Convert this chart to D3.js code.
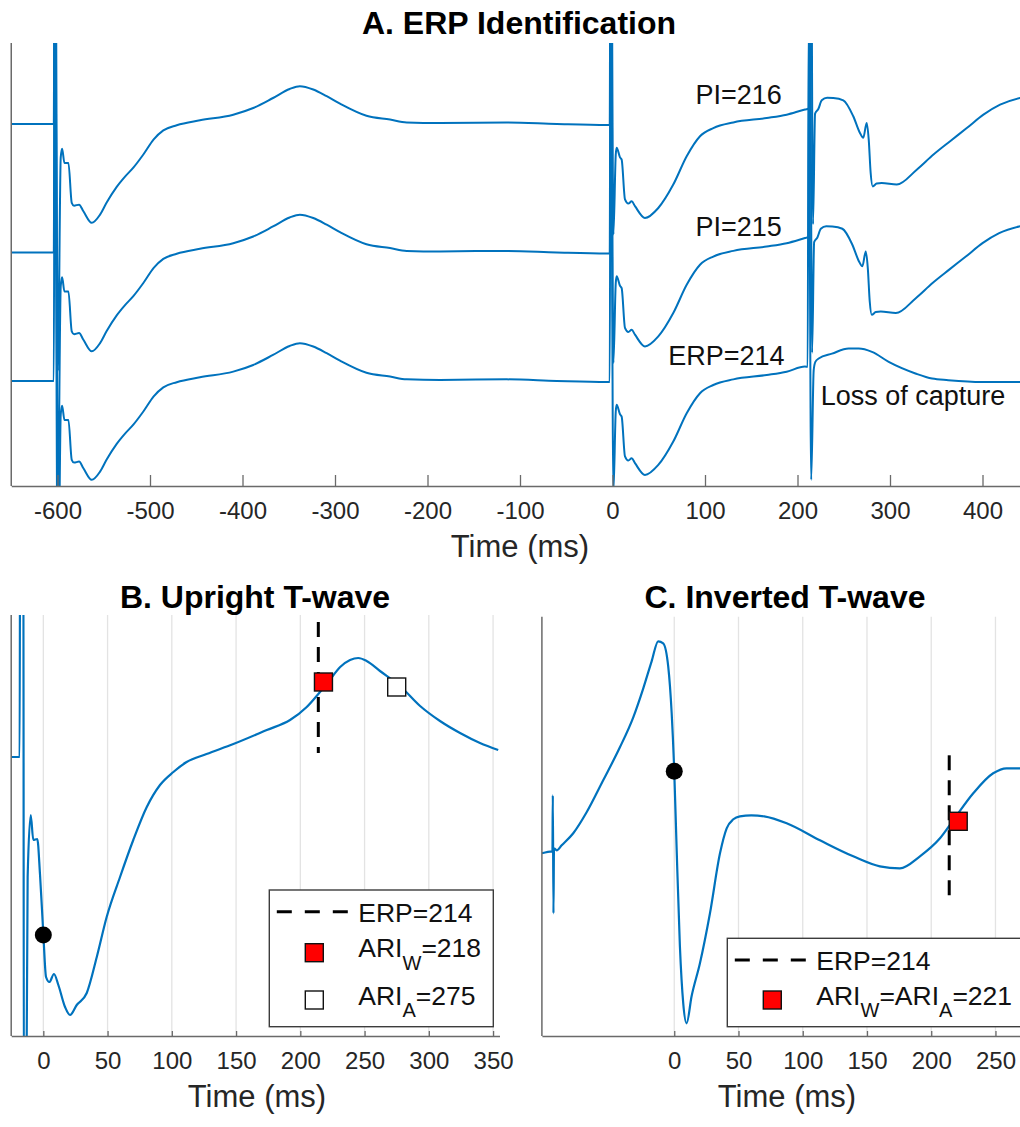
<!DOCTYPE html>
<html><head><meta charset="utf-8">
<script src="https://cdn.jsdelivr.net/npm/d3@7"></script>
<style>body{margin:0;background:#fff} svg{display:block}</style>
</head><body>
<svg id="chart" width="1020" height="1127"></svg>
<script>
// ===== Panel A data =====
const aTicks = [-600,-500,-400,-300,-200,-100,0,100,200,300,400];
const traceLabels = ["PI=216","PI=215","ERP=214"];
const traceOffsets = [0,-5,-10];
const s1Times = [-600,-600,-600];
const s2Times = [0,0,0];
const s3Times = [216,215,214];
const s3Captured = [true,true,false];
const labelTime = [183,183,186];
const labelValue = [0.78,0.62,0.62];
const lossLabel = "Loss of capture";
const lossLabelPos = [225,-0.95];

// S1 beat (time relative to S1 stimulus)
const s1Rel = [-4,-3,0.5,3.5,5,7.5,11.8,15.4,17.9,23.3,28,37,46,53,64,73,82,93,104,114.4,128.9,154,190,211.6,233,251,262,276.5,291,305.4,334,359.5,377.5,413.5,485.6,539.7,594];
const s1Val = [0,14,-9.6,-1.3,-0.97,-1.52,-1.52,-3.07,-3.18,-3.14,-3.4,-3.85,-3.53,-3.07,-2.45,-2.05,-1.7,-1.18,-0.6,-0.25,-0.05,0.14,0.36,0.62,1.01,1.36,1.47,1.34,1.08,0.79,0.32,0.17,0.06,0.04,0.06,0,-0.04];
// S2 beat (relative to S2)
const s2Rel = [-3,-2,1,3.5,4.5,8.1,9.9,13.5,17.1,20.7,24.3,35.1,49.5,65.7,80.2,94.6,109,130.6,166.7,188.3,208.1,213];
const s2Val = [-0.04,14,-4.3,-1.2,-0.93,-1.3,-1.39,-2.94,-3.1,-3.01,-3.2,-3.66,-3.27,-2.36,-1.26,-0.48,-0.16,0.06,0.23,0.36,0.56,0.6];
// S3 captured beat (relative to S3)
const s3CapRel = [-3,-2,0.8,3,6.5,10.2,16,22.7,33.5,44.3,51.5,55.1,58.8,61,63.1,65.3,69.6,75,91.3,112.9,131,149,167,185,203,224.6,240];
const s3CapVal = [0.6,14,-3.9,0.4,0.58,0.92,1.02,1.01,0.92,0.3,-0.35,-0.54,0.04,-0.61,-1.91,-2.43,-2.32,-2.3,-2.36,-1.78,-1.19,-0.67,-0.16,0.36,0.75,1.01,1.1];
// S3 loss of capture (relative to S3)
const s3LossRel = [-3,-2,0.8,3.5,5.3,8.9,23.3,41.3,52.2,66.5,84.6,113.5,131.5,149,185,226,240];
const s3LossVal = [0.55,14,-3.85,0.41,0.74,0.87,1.06,1.26,1.26,1.13,0.74,0.29,0.09,0.03,-0.04,-0.04,-0.04];

// ===== Panel B data =====
const bTicks = [0,50,100,150,200,250,300,350];
const bTime = [-25,-18.4,-18.0,-15.6,-15.1,-13.6,-12.2,-9.8,-7.8,-4.7,-2.6,0,2.1,4.7,8.3,11.7,16.9,20.8,26,33.8,41.6,49.3,59.7,70,80.5,90.8,101.2,111.5,127,147.9,173.9,192,205,215.3,221.8,231,238.7,245.1,251.6,262,277.6,293.2,308.7,324.3,339.8,354];
const bValue = [0,0,3.5,3.5,-4.2,-4.2,-1.2,-0.58,-0.83,-0.82,-1.17,-1.77,-2.2,-2.25,-2.17,-2.28,-2.5,-2.58,-2.48,-2.36,-2.0,-1.6,-1.2,-0.83,-0.5,-0.28,-0.15,-0.05,0.03,0.13,0.27,0.37,0.5,0.65,0.75,0.9,0.97,0.99,0.96,0.86,0.71,0.51,0.36,0.24,0.14,0.07];
const bDot = [0,-1.78];
const bAriW = [218,0.75];
const bAriA = [275,0.70];
const bErp = [214,1.35,0.04];

// ===== Panel C data =====
const cTicks = [0,50,100,150,200,250];
const cTime = [-103,-95,-94.8,-94.5,-94.0,-93.6,-91.5,-87.6,-78.6,-68.2,-55.3,-42.3,-31.9,-24.1,-17.6,-12.5,-8.6,-4.7,-2,0,1.8,4.4,7,9.6,13.5,20,27.8,35.6,40.8,46,51.1,60,70,87.5,113.4,139.3,160,175.6,191.2,206.8,217.1,232.7,248.2,258.6,269,275];
const cValue = [0,0.02,0.02,0.58,-0.6,0.05,0.03,0.08,0.2,0.41,0.73,1.06,1.36,1.65,1.92,2.12,2.1,1.87,1.4,0.82,0.07,-0.93,-1.5,-1.7,-1.43,-1.1,-0.6,0,0.25,0.34,0.37,0.38,0.37,0.3,0.13,-0.03,-0.13,-0.15,-0.03,0.15,0.33,0.6,0.8,0.85,0.85,0.85];
const cDot = [0,0.82];
const cAri = [221,0.32];
const cErp = [214,0.98,-0.5];

// ===== styles =====
const blue = "#0072BD";
const axisColor = "#6a6a6a";
const textColor = "#262626";
const FONT = "'Liberation Sans', Arial, Helvetica, sans-serif";

const svg = d3.select("#chart");
const defs = svg.append("defs");
function clip(id, x, y, w, h){
  defs.append("clipPath").attr("id", id).append("rect").attr("x",x).attr("y",y).attr("width",w).attr("height",h);
}

function styleAxis(g, size){
  g.attr("font-family", FONT).attr("font-size", size);
  g.select(".domain").attr("stroke", axisColor).attr("stroke-width", 1.5);
  g.selectAll(".tick line").attr("stroke", axisColor).attr("stroke-width", 1.3);
  g.selectAll(".tick text").attr("fill", textColor);
}

// ===== Panel A =====
const xA = d3.scaleLinear().domain([-650, 450]).range([11.25, 1028.75]);
const yA = d3.scaleLinear().domain([-14.09, 3.15]).range([486, 43]);
clip("clipA", 11.25, 43, 1010, 443);

function buildTrace(k){
  const pts = [[-650, 0]];
  s1Rel.forEach((r,i)=> pts.push([s1Times[k]+r, s1Val[i]]));
  s2Rel.forEach((r,i)=> { if (s2Times[k]+r <= s3Times[k]-3.5) pts.push([s2Times[k]+r, s2Val[i]]); });
  const rel = s3Captured[k] ? s3CapRel : s3LossRel;
  const val = s3Captured[k] ? s3CapVal : s3LossVal;
  rel.forEach((r,i)=> pts.push([s3Times[k]+r, val[i]]));
  return pts.map(([t,v]) => [t, v + traceOffsets[k]]);
}
const lineA = d3.line().x(d=>xA(d[0])).y(d=>yA(d[1])).curve(d3.curveMonotoneX);
const gA = svg.append("g");
gA.append("g").attr("clip-path","url(#clipA)")
  .selectAll("path").data([0,1,2]).join("path")
  .attr("d", k => lineA(buildTrace(k)))
  .attr("fill","none").attr("stroke", blue).attr("stroke-width", 2).attr("stroke-linejoin","round");

gA.append("line").attr("x1", xA(-650)).attr("x2", xA(-650)).attr("y1", 43).attr("y2", 486)
  .attr("stroke", axisColor).attr("stroke-width", 1.5);
const axA = gA.append("g").attr("transform","translate(0,486)")
  .call(d3.axisBottom(xA).tickValues(aTicks).tickSize(-11).tickSizeOuter(0).tickPadding(16).tickFormat(d=>String(d)));
styleAxis(axA, 24);

gA.selectAll("text.lab").data([0,1,2]).join("text").attr("class","lab")
  .attr("x", k => xA(labelTime[k])).attr("y", k => yA(labelValue[k] + traceOffsets[k]))
  .attr("text-anchor","end").attr("font-family", FONT).attr("font-size", 27).attr("fill", "#111")
  .text(k => traceLabels[k]);
gA.append("text").attr("x", xA(lossLabelPos[0])).attr("y", yA(lossLabelPos[1] + traceOffsets[2]))
  .attr("font-family", FONT).attr("font-size", 27).attr("fill","#111").text(lossLabel);

svg.append("text").attr("x", 519).attr("y", 34).attr("text-anchor","middle")
  .attr("font-family", FONT).attr("font-size", 32).attr("font-weight","bold").attr("fill","#000")
  .text("A. ERP Identification");
svg.append("text").attr("x", 520).attr("y", 556.7).attr("text-anchor","middle")
  .attr("font-family", FONT).attr("font-size", 31).attr("fill", textColor).text("Time (ms)");

// ===== generic bottom panel =====
function drawPanel(o){
  const g = svg.append("g");
  clip(o.clipId, o.x.range()[0], o.y.range()[1], o.x.range()[1]-o.x.range()[0], o.y.range()[0]-o.y.range()[1]);
  g.selectAll("line.grid").data(o.ticks).join("line").attr("class","grid")
    .attr("x1", d=>o.x(d)).attr("x2", d=>o.x(d)).attr("y1", o.y.range()[1]).attr("y2", o.y.range()[0])
    .attr("stroke", "#e3e3e3").attr("stroke-width", 1.3);
  const line = d3.line().x(d=>o.x(d[0])).y(d=>o.y(d[1])).curve(d3.curveMonotoneX);
  g.append("path").attr("clip-path", `url(#${o.clipId})`)
    .attr("d", line(o.time.map((t,i)=>[t, o.value[i]])))
    .attr("fill","none").attr("stroke", blue).attr("stroke-width", 2.2).attr("stroke-linejoin","round");
  g.append("line").attr("x1", o.x.range()[0]).attr("x2", o.x.range()[0]).attr("y1", o.y.range()[1]).attr("y2", o.y.range()[0])
    .attr("stroke", axisColor).attr("stroke-width", 1.5);
  const ax = g.append("g").attr("transform", `translate(0,${o.y.range()[0]})`)
    .call(d3.axisBottom(o.x).tickValues(o.ticks).tickSize(-5).tickSizeOuter(0).tickPadding(16.3).tickFormat(d=>String(d)));
  styleAxis(ax, 24);
  g.append("line").attr("x1", o.x(o.erp[0])).attr("x2", o.x(o.erp[0]))
    .attr("y1", o.y(o.erp[1])).attr("y2", o.y(o.erp[2]))
    .attr("stroke","#000").attr("stroke-width", 3).attr("stroke-dasharray","15,10");
  g.append("circle").attr("cx", o.x(o.dot[0])).attr("cy", o.y(o.dot[1])).attr("r", 8.5).attr("fill","#000");
  o.squares.forEach(s => {
    g.append("rect").attr("x", o.x(s.p[0])-9).attr("y", o.y(s.p[1])-9).attr("width",18).attr("height",18)
      .attr("fill", s.fill).attr("stroke","#111").attr("stroke-width",1.4);
  });
  svg.append("text").attr("x", o.titleX).attr("y", 607.5).attr("text-anchor","middle")
    .attr("font-family", FONT).attr("font-size", 32).attr("font-weight","bold").attr("fill","#000").text(o.title);
  svg.append("text").attr("x", o.titleX + 2).attr("y", 1106.7).attr("text-anchor","middle")
    .attr("font-family", FONT).attr("font-size", 31).attr("fill", textColor).text("Time (ms)");
  return g;
}

function legend(g, L){
  g.append("rect").attr("x", L.x).attr("y", L.y).attr("width", L.w).attr("height", L.h)
    .attr("fill","#fff").attr("stroke","#3c3c3c").attr("stroke-width",1.4);
  g.append("line").attr("x1", L.x+7.5).attr("x2", L.x+79).attr("y1", L.y+21.7).attr("y2", L.y+21.7)
    .attr("stroke","#000").attr("stroke-width",3).attr("stroke-dasharray","15,13");
  const tx = L.x + 89;
  g.append("text").attr("x", tx).attr("y", L.y+31.5).attr("font-family", FONT).attr("font-size", 26.5)
    .attr("fill","#111").text("ERP=214");
  L.items.forEach((it) => {
    const cy = L.y + it.dy;
    g.append("rect").attr("x", L.x+45-9).attr("y", cy-9).attr("width",18).attr("height",18)
      .attr("fill", it.fill).attr("stroke","#111").attr("stroke-width",1.4);
    const t = g.append("text").attr("x", tx).attr("y", cy+4.5).attr("font-family", FONT).attr("font-size", 26.5).attr("fill","#111");
    it.parts.forEach(p => {
      if (p.sub) t.append("tspan").attr("dy", 12.5).attr("font-size", 20).text(p.s);
      else t.append("tspan").attr("dy", p.back ? -12.5 : 0).text(p.s);
    });
  });
}

// ===== Panel B =====
const xB = d3.scaleLinear().domain([-25, 355]).range([11.2, 499.5]);
const yB = d3.scaleLinear().domain([-2.79, 1.42]).range([1036, 615]);
const gB = drawPanel({x:xB, y:yB, ticks:bTicks, time:bTime, value:bValue, clipId:"clipB",
  erp:bErp, dot:bDot, squares:[{p:bAriW, fill:"#ff0000"},{p:bAriA, fill:"#ffffff"}],
  title:"B. Upright T-wave", titleX:255});
legend(gB, {x:269.3, y:890, w:224, h:136.7, items:[
  {dy:62.7, fill:"#ff0000", parts:[{s:"ARI"},{s:"W",sub:true},{s:"=218",back:true}]},
  {dy:110, fill:"#ffffff", parts:[{s:"ARI"},{s:"A",sub:true},{s:"=275",back:true}]}
]});

// ===== Panel C =====
const xC = d3.scaleLinear().domain([-103, 275]).range([541.9, 1027.6]);
const yC = d3.scaleLinear().domain([-1.827, 2.366]).range([1036, 616.7]);
const gC = drawPanel({x:xC, y:yC, ticks:cTicks, time:cTime, value:cValue, clipId:"clipC",
  erp:cErp, dot:cDot, squares:[{p:cAri, fill:"#ff0000"}],
  title:"C. Inverted T-wave", titleX:785});
legend(gC, {x:727.3, y:938.3, w:310, h:88.4, items:[
  {dy:61.7, fill:"#ff0000", parts:[{s:"ARI"},{s:"W",sub:true},{s:"=ARI",back:true},{s:"A",sub:true},{s:"=221",back:true}]}
]});
</script>
</body></html>
